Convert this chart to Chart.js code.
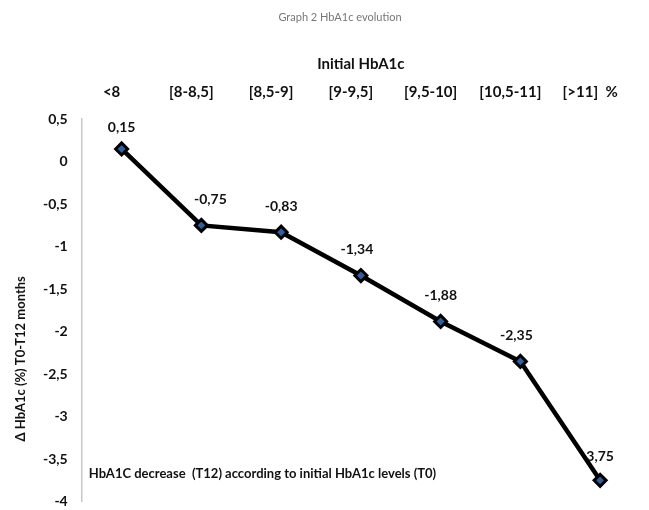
<!DOCTYPE html>
<html>
<head>
<meta charset="utf-8">
<script src="https://cdn.jsdelivr.net/npm/chart.js@4/dist/chart.umd.min.js"></script>
<style>
  html, body { margin: 0; padding: 0; background: #fff; overflow: hidden; }
  #wrap { width: 649px; height: 516px; }
</style>
</head>
<body>
<div id="wrap"><canvas id="c"></canvas></div>
<script>
// ── Data ────────────────────────────────────────────────────────
const categories = ['<8', '[8-8,5]', '[8,5-9]', '[9-9,5]', '[9,5-10]', '[10,5-11]', '[>11]'];
const deltaHbA1c = [0.15, -0.75, -0.83, -1.34, -1.88, -2.35, -3.75];
// point labels exactly as printed (last one has no minus sign in the source)
const pointLabels = ['0,15', '-0,75', '-0,83', '-1,34', '-1,88', '-2,35', '3,75'];
const yTicks = [0.5, 0, -0.5, -1, -1.5, -2, -2.5, -3, -3.5, -4];

const FONT = 'Lato, "Open Sans", sans-serif';
const fmt = v => String(v).replace('.', ',');

// ── Inline plugin: value labels, y title, footnote text ─────────
const labelPlugin = {
  id: 'pointLabels',
  afterDatasetsDraw(chart) {
    const { ctx, chartArea: A } = chart;
    const meta = chart.getDatasetMeta(0);
    const yScale = chart.scales.y;
    const last = meta.data.length - 1;
    ctx.save();
    ctx.fillStyle = '#111';
    ctx.font = `bold 14px ${FONT}`;
    ctx.textAlign = 'center';
    ctx.textBaseline = 'bottom';
    meta.data.forEach((pt, i) => {
      const dx = i === 1 ? 9 : (i === 3 || i === 5) ? -4 : 0;
      const lift = i === 0 ? 14 : i === last ? 17 : 19;
      ctx.fillText(pointLabels[i], pt.x + dx, pt.y - lift);
    });
    // footnote inside plot area
    ctx.textAlign = 'left';
    ctx.textBaseline = 'middle';
    ctx.font = `bold 13px ${FONT}`;
    ctx.fillText('HbA1C decrease  (T12) according to initial HbA1c levels (T0)',
      A.left + 7, yScale.getPixelForValue(-3.67));
    // y axis title (sits low on the axis in the source)
    ctx.translate(A.left - 61, yScale.getPixelForValue(-2.32));
    ctx.rotate(-Math.PI / 2);
    ctx.textAlign = 'center';
    ctx.font = `bold 13px ${FONT}`;
    ctx.fillText('Δ HbA1c (%) T0-T12 months', 0, 0);
    ctx.restore();
  },
};

new Chart(document.getElementById('c'), {
  type: 'line',
  plugins: [labelPlugin],
  data: {
    labels: categories,
    datasets: [{
      data: deltaHbA1c,
      borderColor: '#000',
      borderWidth: 4.5,
      pointStyle: 'rectRot',
      pointRadius: 6,
      pointBorderWidth: 3,
      pointBackgroundColor: '#2f5f9f',
      pointBorderColor: '#000',
      tension: 0,
    }],
  },
  options: {
    responsive: true,
    maintainAspectRatio: false,
    animation: false,
    layout: { padding: { top: 4, right: 6, bottom: 0, left: 37 } },
    plugins: {
      legend: { display: false },
      tooltip: { enabled: false },
      title: {
        display: true,
        text: 'Graph 2 HbA1c evolution',
        color: '#777',
        font: { family: FONT, size: 11, weight: 'normal' },
        padding: { top: 7, bottom: 31 },
      },
    },
    scales: {
      x: {
        type: 'category',
        position: 'top',
        offset: true,
        grid: { display: false },
        border: { display: false },
        title: {
          display: true,
          text: 'Initial HbA1c',
          color: '#111',
          font: { family: FONT, size: 15, weight: 'bold' },
          padding: { top: 0, bottom: 0 },
        },
        ticks: {
          color: '#111',
          font: { family: FONT, size: 15, weight: 'bold' },
          labelOffset: -10,
          padding: 10,
          maxRotation: 0,
          autoSkip: false,
          callback(v, i) { return i === categories.length - 1 ? categories[i] + '  %' : categories[i]; },
        },
      },
      y: {
        min: -4,
        max: 0.5,
        afterBuildTicks(axis) { axis.ticks = yTicks.map(v => ({ value: v })); },
        grid: { display: false },
        border: { display: true, color: '#c8c8c8', width: 1.5 },
        ticks: {
          color: '#111',
          font: { family: FONT, size: 14, weight: 'bold' },
          padding: 6,
          callback: v => fmt(v),
        },
      },
    },
  },
});
</script>
</body>
</html>
